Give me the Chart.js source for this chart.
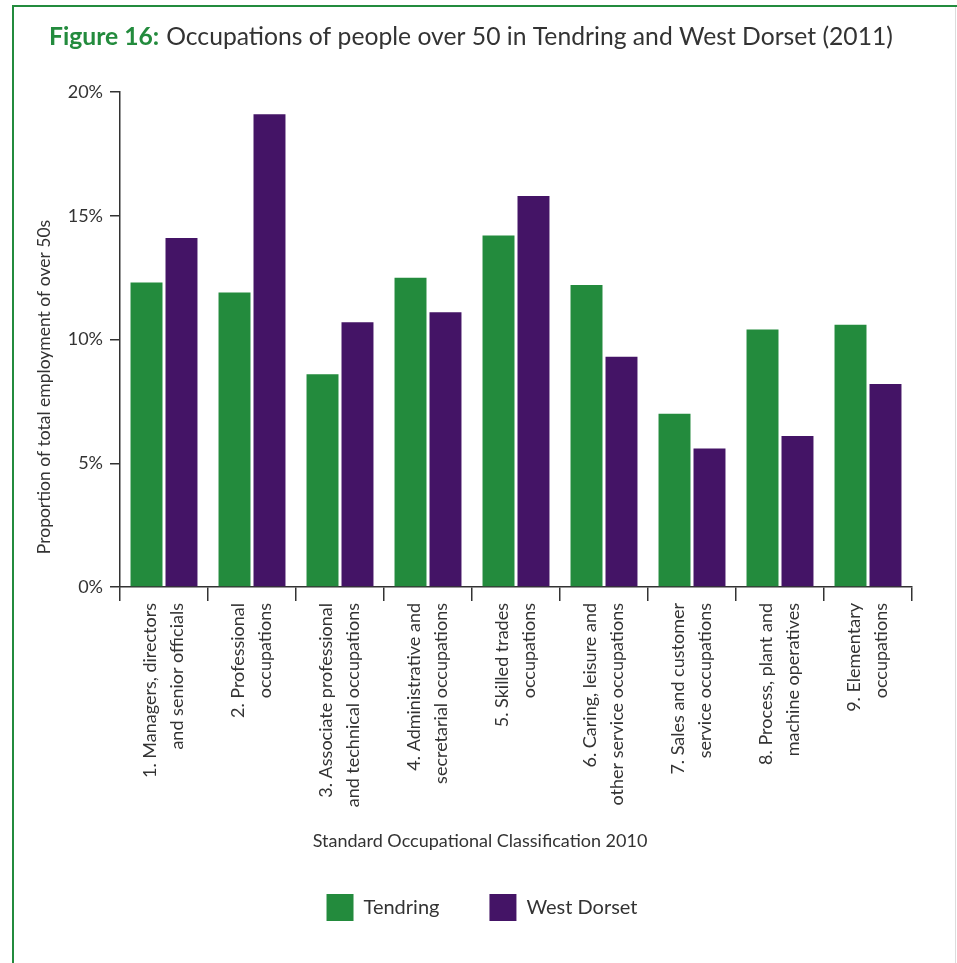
<!DOCTYPE html>
<html>
<head>
<meta charset="utf-8">
<title>Figure 16</title>
<script src="https://cdn.jsdelivr.net/npm/chart.js@4.4.1/dist/chart.umd.min.js"></script>
<style>
  html, body { margin: 0; padding: 0; background: #fff; }
  #wrap { position: relative; width: 957px; height: 963px; overflow: hidden; }
  #frame { position: absolute; left: 12px; top: 5px; right: -2px; bottom: -2px;
           border-left: 2px solid #238b3d; border-top: 2px solid #238b3d; }
  #edge { position: absolute; left: 955px; top: 7px; bottom: 0; width: 1px; background: #dcdcdc; }
  canvas { position: absolute; left: 0; top: 0; }
</style>
</head>
<body>
<div id="wrap">
  <div id="frame"></div>
  <div id="edge"></div>
  <canvas id="chart" width="957" height="963"></canvas>
</div>
<script>
// occupation groups (SOC 2010), two lines each
const categories = [
  ['1. Managers, directors', 'and senior officials'],
  ['2. Professional', 'occupations'],
  ['3. Associate professional', 'and technical occupations'],
  ['4. Administrative and', 'secretarial occupations'],
  ['5. Skilled trades', 'occupations'],
  ['6. Caring, leisure and', 'other service occupations'],
  ['7. Sales and customer', 'service occupations'],
  ['8. Process, plant and', 'machine operatives'],
  ['9. Elementary', 'occupations']
];

// share of over-50s employment, %
const tendring   = [12.3, 11.9, 8.6, 12.5, 14.2, 12.2, 7.0, 10.4, 10.6];
const westDorset = [14.1, 19.1, 10.7, 11.1, 15.8, 9.3, 5.6, 6.1, 8.2];

const yTicks = [0, 5, 10, 15, 20];

const titleLead = 'Figure 16:';
const titleRest = 'Occupations of people over 50 in Tendring and West Dorset (2011)';
const xTitle = 'Standard Occupational Classification 2010';
const yTitle = 'Proportion of total employment of over 50s';

const GREEN = '#238b3d';
const PURPLE = '#441466';
const TEXT = '#333333';
const AXIS = '#333333';
const FONT = 'Lato';

// heading + axis titles drawn straight on the canvas
const headingPlugin = {
  id: 'heading',
  afterDraw: (chart) => {
    const ctx = chart.ctx;
    ctx.save();
    ctx.textAlign = 'left';
    ctx.textBaseline = 'alphabetic';

    ctx.font = 'bold 24.7px ' + FONT;
    ctx.fillStyle = GREEN;
    ctx.fillText(titleLead, 49, 45);
    const leadW = ctx.measureText(titleLead).width;

    ctx.font = '24.7px ' + FONT;
    ctx.fillStyle = TEXT;
    ctx.fillText(titleRest, 49 + leadW + 7, 45);

    // x axis title
    ctx.font = '18px ' + FONT;
    ctx.textAlign = 'center';
    ctx.fillText(xTitle, 480, 847);

    // y axis title, rotated
    ctx.font = '17.5px ' + FONT;
    ctx.translate(44, 387);
    ctx.rotate(-Math.PI / 2);
    ctx.textBaseline = 'middle';
    ctx.fillText(yTitle, 0, 0);
    ctx.restore();
  }
};

function buildChart() {
  new Chart(document.getElementById('chart'), {
    type: 'bar',
    data: {
      labels: categories,
      datasets: [
        { label: 'Tendring', data: tendring, backgroundColor: GREEN, borderWidth: 0 },
        { label: 'West Dorset', data: westDorset, backgroundColor: PURPLE, borderWidth: 0 }
      ]
    },
    options: {
      responsive: false,
      animation: false,
      categoryPercentage: 0.795,
      barPercentage: 0.914,
      layout: { padding: { left: 7, right: 0, top: 92, bottom: 32 } },
      plugins: {
        legend: {
          position: 'bottom',
          labels: {
            boxWidth: 27,
            boxHeight: 27,
            padding: 50,
            color: TEXT,
            font: { family: FONT, size: 20 }
          }
        },
        tooltip: { enabled: false }
      },
      scales: {
        x: {
          grid: { offset: true, drawOnChartArea: false, color: AXIS, lineWidth: 1.5, tickLength: 14 },
          border: { color: AXIS, width: 1.5 },
          ticks: {
            autoSkip: false,
            maxRotation: 90,
            minRotation: 90,
            padding: 2,
            labelOffset: -14,
            color: TEXT,
            font: { family: FONT, size: 18, lineHeight: 1.5 }
          },
          afterFit: (scale) => { scale.height = 257; }
        },
        y: {
          min: 0,
          max: 20,
          afterBuildTicks: (scale) => { scale.ticks = yTicks.map(v => ({ value: v })); },
          grid: { drawOnChartArea: false, color: AXIS, lineWidth: 1.5, tickLength: 10 },
          border: { color: AXIS, width: 1.5 },
          ticks: {
            padding: 7,
            color: TEXT,
            font: { family: FONT, size: 18 },
            callback: (v) => v + '%'
          },
          afterFit: (scale) => { scale.width = 113; }
        },
        // empty right-hand gutter so the plot ends at x = 912
        gutter: {
          position: 'right',
          display: true,
          grid: { display: false },
          border: { display: false },
          ticks: { display: false },
          afterFit: (scale) => { scale.width = 45; }
        }
      }
    },
    plugins: [headingPlugin]
  });
}

Promise.all([
  document.fonts.load('17px ' + FONT),
  document.fonts.load('bold 26px ' + FONT)
]).then(buildChart, buildChart);
</script>
</body>
</html>
